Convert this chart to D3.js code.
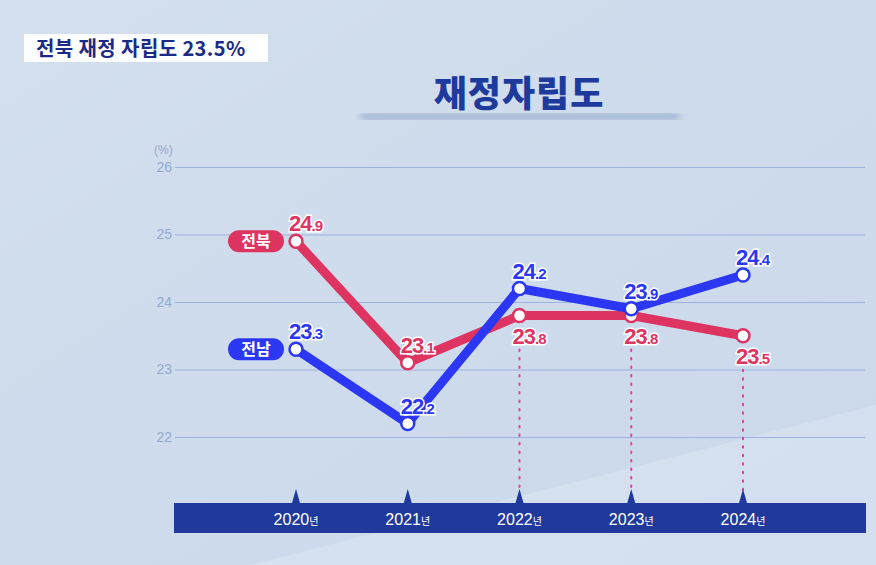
<!DOCTYPE html>
<html><head><meta charset="utf-8">
<script src="https://cdn.jsdelivr.net/npm/d3@7/dist/d3.min.js"></script>
<style>body{margin:0;padding:0;overflow:hidden}svg{display:block}</style>
</head><body>
<script>
const years = ["2020","2021","2022","2023","2024"];
const jeonbuk = [24.9, 23.1, 23.8, 23.8, 23.5];
const jeonnam = [23.3, 22.2, 24.2, 23.9, 24.4];
const yTicks = [22, 23, 24, 25, 26];
// label placement for 전북: 'a' above, 'b' below
const jbLabelPos = ["a","a","b","b","b"];

const W = 876, H = 565;
const PINK = "#dd3462", BLUE = "#2b37f2", NAVY = "#1f3a9c";
const svg = d3.select("body").append("svg").attr("width", W).attr("height", H);
const defs = svg.append("defs");
const bg = defs.append("linearGradient").attr("id","bg").attr("x1","0").attr("y1","0").attr("x2","1").attr("y2","1");
bg.append("stop").attr("offset","0").attr("stop-color","#d3dfee");
bg.append("stop").attr("offset","1").attr("stop-color","#cad8ea");
defs.append("filter").attr("id","blur").append("feGaussianBlur").attr("stdDeviation","3.5");

svg.append("rect").attr("width",W).attr("height",H).attr("fill","url(#bg)");
svg.append("path").attr("d","M250,565 L876,405 L876,565 Z").attr("fill","#dde7f3").attr("opacity",0.5);

// caption box
svg.append("rect").attr("x",24).attr("y",34).attr("width",244).attr("height",28).attr("fill","#ffffff").attr("opacity",0.95);
svg.append("text").attr("x",36).attr("y",56).attr("font-family","Noto Sans CJK KR").attr("font-weight",700)
  .attr("font-size",20).attr("letter-spacing",0.4).attr("fill","#1b2a86").text("전북 재정 자립도 23.5%");

// title
svg.append("rect").attr("x",360).attr("y",114).attr("width",320).attr("height",5).attr("rx",3)
  .attr("fill","#8ea2c8").attr("filter","url(#blur)");
svg.append("text").attr("x",519).attr("y",107).attr("text-anchor","middle").attr("font-family","Noto Sans CJK KR")
  .attr("font-weight",900).attr("font-size",36).attr("letter-spacing",1).attr("fill","#1e3a9c").text("재정자립도");

const x = d3.scalePoint().domain(years).range([296, 743]);
const y = d3.scaleLinear().domain([22, 26]).range([437, 167]);

// gridlines
const yAxis = d3.axisLeft(y).tickValues(yTicks).tickSize(-690).tickFormat(d3.format("d"));
const gAx = svg.append("g").attr("transform","translate(175,0)").call(yAxis);
gAx.select(".domain").remove();
gAx.selectAll(".tick line").attr("stroke","#9db2dd").attr("stroke-width",1.2);
gAx.selectAll(".tick text").attr("x",-3).attr("font-family","Liberation Sans").attr("font-size",14).attr("fill","#93a8d2");
svg.append("text").attr("x",154).attr("y",154).attr("font-family","Liberation Sans").attr("font-size",12).attr("fill","#93a8d2").text("(%)");

// dotted lines from 전북 points (below labels)
years.forEach((yr,i)=>{
  if (jbLabelPos[i]==="b") {
    svg.append("line").attr("x1",x(yr)).attr("x2",x(yr)).attr("y1",y(jeonbuk[i])+34).attr("y2",490)
      .attr("stroke","#e040a0").attr("stroke-width",2).attr("stroke-dasharray","1.5,7").attr("stroke-linecap","round");
  }
});

// x band
svg.append("rect").attr("x",174).attr("y",503).attr("width",692).attr("height",30).attr("fill",NAVY);
years.forEach(yr=>{
  const cx = x(yr);
  svg.append("path").attr("d",`M${cx-4},503 L${cx},489 L${cx+4},503 Z`).attr("fill",NAVY);
  const t = svg.append("text").attr("x",cx).attr("y",525).attr("text-anchor","middle")
    .attr("font-family","Liberation Sans").attr("fill","#ffffff");
  t.append("tspan").attr("font-size",16).text(yr);
  t.append("tspan").attr("font-size",10).attr("font-family","Noto Sans CJK KR").text("년");
});

const line = d3.line().x((d,i)=>x(years[i])).y(d=>y(d));
function drawSeries(vals, color){
  svg.append("path").datum(vals).attr("d",line).attr("fill","none").attr("stroke",color)
    .attr("stroke-width",9).attr("stroke-linejoin","round");
  svg.selectAll(null).data(vals).enter().append("circle")
    .attr("cx",(d,i)=>x(years[i])).attr("cy",d=>y(d)).attr("r",6.5)
    .attr("fill","#ffffff").attr("stroke",color).attr("stroke-width",2.5);
}
drawSeries(jeonbuk, PINK);
drawSeries(jeonnam, BLUE);

function label(v, i, color, pos){
  const [ip, dp] = v.toFixed(1).split(".");
  const px = x(years[i]) - 7;
  const py = pos==="a" ? y(v) - 10 : y(v) + 28;
  const t = svg.append("text").attr("x",px).attr("y",py).attr("font-family","Liberation Sans")
    .attr("font-weight",700).attr("fill",color).attr("stroke","#ffffff").attr("stroke-width",3)
    .attr("paint-order","stroke").attr("letter-spacing",-1);
  t.append("tspan").attr("font-size",22).text(ip);
  t.append("tspan").attr("font-size",15).text("."+dp);
}
jeonbuk.forEach((v,i)=>label(v,i,PINK,jbLabelPos[i]));
jeonnam.forEach((v,i)=>label(v,i,BLUE,"a"));

// legend pills
function pill(name, color, cy){
  svg.append("rect").attr("x",228).attr("y",cy-11).attr("width",56).attr("height",22).attr("rx",11).attr("fill",color);
  svg.append("text").attr("x",256).attr("y",cy+6).attr("text-anchor","middle").attr("font-family","Noto Sans CJK KR")
    .attr("font-weight",700).attr("font-size",16).attr("fill","#ffffff").text(name);
}
pill("전북", PINK, y(jeonbuk[0]));
pill("전남", BLUE, y(jeonnam[0]));
</script>
</body></html>
